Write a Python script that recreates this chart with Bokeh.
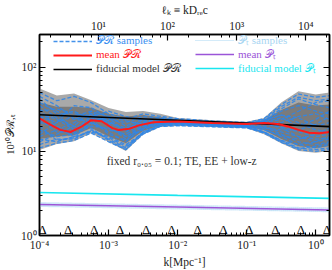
from bokeh.plotting import figure
from bokeh.models import (LogAxis, Range1d, LogScale, Legend, LegendItem, Label,
                          CustomJSTickFormatter, ColumnDataSource)
from bokeh.core.properties import value
from bokeh.embed import file_html
from bokeh.resources import INLINE

# ---------------- data ----------------
D_REC = 14000.0  # Mpc, for the top ell axis

K_GRID = [1e-4, 1.78e-4, 3.16e-4, 5.62e-4, 1e-3, 1.78e-3, 3.16e-3, 5.62e-3,
          1e-2, 3.16e-2, 0.1, 0.178, 0.316, 0.562, 1.0, 1.58]

OUTER_HI = [55.7, 46.2, 48.7, 40.5, 32.7, 29.4, 30.2, 28.0, 25.0, 23.5, 22.5, 25.0, 38.0, 52.0, 47.5, 50.0]
OUTER_LO = [10.4, 12.2, 13.2, 16.4, 12.9, 10.1, 15.9, 19.5, 20.0, 19.5, 18.8, 16.0, 12.5, 10.1, 9.6, 10.1]
INNER_HI = [38.0, 34.0, 34.0, 33.0, 28.0, 26.0, 27.0, 25.5, 24.0, 22.6, 21.7, 23.5, 31.0, 38.0, 35.0, 36.0]
INNER_LO = [14.0, 15.0, 15.5, 19.0, 15.0, 12.5, 17.5, 20.5, 21.0, 20.3, 19.6, 18.0, 14.0, 11.5, 11.0, 11.5]

PR_SAMPLES = [
    [50, 40, 45, 38, 28, 24, 28, 26, 24.5, 23, 22, 24.5, 36, 48, 44, 46],
    [12, 14, 14, 18, 14, 11, 17, 20, 20.5, 19.8, 19.2, 17, 13.5, 11, 10.5, 11],
    [35, 25, 20, 30, 26, 20, 24, 24, 23.5, 22, 21.2, 23, 30, 35, 30, 28],
    [18, 15, 16, 22, 17, 13, 19, 21, 21.3, 20.5, 19.8, 19.5, 16, 13, 12, 13],
    [30, 32, 28, 26, 22, 19, 22, 23, 22.6, 21.6, 21, 21, 19.5, 17, 15, 16],
    [22, 20, 16, 20, 19, 15, 18, 22, 22.2, 21.3, 20.4, 23.5, 27, 25, 20, 22],
    [42, 28, 18, 24, 24, 22, 26, 25, 23.8, 22.5, 21.6, 22, 24, 30, 38, 40],
    [15, 18, 22, 28, 20, 14, 20, 21.5, 21.8, 20.8, 20, 18.5, 15, 12, 11, 12],
    [26, 22, 35, 33, 25, 17, 21, 23, 22.8, 21.8, 21.2, 23, 32, 42, 36, 33],
    [20, 13.5, 14.5, 17.5, 15, 12, 16.5, 20.5, 21, 20.2, 19.5, 18, 15.5, 14, 16, 19],
    [28, 24, 18, 26, 30, 26, 23, 23.5, 23, 21.9, 21, 21.5, 19, 15, 13, 14],
    [45, 35, 25, 22, 18, 16, 20, 22.5, 22.4, 21.4, 20.7, 23, 27, 22, 18, 17],
    [24, 17, 17, 25, 22, 18, 24, 24, 23.2, 22.2, 21.4, 22.5, 25, 20, 24, 30],
    [13, 16, 20, 19, 13.5, 10.5, 17, 21, 21.5, 20.6, 19.8, 17, 13.5, 12, 13, 15],
    [38, 30, 24, 28, 23, 17.5, 22, 24.5, 23.4, 22.3, 21.5, 24, 34, 44, 40, 42],
    [16, 22, 26, 30, 21, 15, 19.5, 22, 22, 21, 20.2, 20, 17, 15, 14, 14.5],
    [32, 19, 15, 21, 26, 23, 21, 22.5, 22.5, 21.6, 20.8, 21.5, 22, 26, 28, 24],
    [25, 27, 30, 24, 16, 13.5, 18.5, 21.8, 21.7, 20.9, 20.1, 19, 18, 18, 21, 26],
    [11, 12.5, 13.5, 16.5, 13, 10.5, 16, 19.8, 20.2, 19.6, 19, 16.5, 12.8, 10.5, 10, 10.5],
    [14, 13, 15, 17, 14.5, 11.5, 16.2, 20.2, 20.8, 20, 19.4, 16.8, 13, 10.8, 11.5, 12.5],
]

K_MEAN = [1e-4, 1.41e-4, 2.0e-4, 2.82e-4, 3.98e-4, 5.62e-4, 7.94e-4, 1.12e-3,
          1.41e-3, 2.0e-3, 2.82e-3, 4.47e-3, 1e-2, 3.16e-2, 0.1, 0.178,
          0.282, 0.398, 0.562, 0.794, 1.12, 1.58]
PR_MEAN = [24.6, 21.0, 18.0, 17.0, 19.5, 23.5, 22.8, 19.0, 17.9, 18.6, 20.5,
           22.2, 22.6, 21.8, 21.1, 21.8, 21.2, 19.8, 18.0, 16.7, 16.4, 17.0]

K_LINE = [1e-4, 1e-2, 1.58]
PR_FID = [27.3, 23.4, 19.7]
PT_FID = [3.25, 3.00, 2.76]
PT_MEAN = [2.34, 2.18, 2.01]
PT_SAMPLES = [
    [2.46, 2.29, 2.12],
    [2.40, 2.23, 2.06],
    [2.27, 2.12, 1.96],
    [2.22, 2.07, 1.92],
]

KNOTS = [1.1e-4, 2.6e-4, 6.2e-4, 1.46e-3, 3.5e-3, 8.2e-3, 1.95e-2, 4.6e-2,
         0.109, 0.26, 0.61, 1.45]

# ---------------- style ----------------
FONT = "Liberation Serif"
C_BLUE = "#2f86e8"
C_RED = "#ff1a1a"
C_PURPLE = "#9b55d8"
C_CYAN = "#19e6ef"
C_LBLUE = "#a9d6f2"

p = figure(width=332, height=270, x_axis_type="log", y_axis_type="log",
           x_range=(1e-4, 1.58), y_range=(1, 245),
           output_backend="svg", toolbar_location=None,
           min_border_left=39, min_border_right=3, min_border_top=29,
           min_border_bottom=33)
p.grid.visible = False
p.outline_line_color = "black"
p.outline_line_width = 1.5

# bands
p.varea(x=K_GRID, y1=OUTER_LO, y2=OUTER_HI, fill_color="#a9a9a9")
p.varea(x=K_GRID, y1=INNER_LO, y2=INNER_HI, fill_color="#7b7b7b")

sample_r = None
for s in PR_SAMPLES:
    r = p.line(K_GRID, s, line_color=C_BLUE, line_width=1.3, line_dash="4 2", line_alpha=0.9)
    if sample_r is None:
        sample_r = r

pt_r = None
for s in PT_SAMPLES:
    r = p.line(K_LINE, s, line_color=C_LBLUE, line_width=1.2, line_dash="1 1")
    if pt_r is None:
        pt_r = r

cyan_r = p.line(K_LINE, PT_FID, line_color=C_CYAN, line_width=1.6)
purple_r = p.line(K_LINE, PT_MEAN, line_color=C_PURPLE, line_width=1.6)
black_r = p.line(K_LINE, PR_FID, line_color="black", line_width=1.6)
red_r = p.line(K_MEAN, PR_MEAN, line_color=C_RED, line_width=2.0)

src = ColumnDataSource(dict(x=KNOTS, t=["Δ"] * len(KNOTS)))
p.text(x="x", y=1.17, text="t", source=src, text_font=value(FONT),
       text_font_size="13px", text_align="center", text_baseline="alphabetic",
       text_color="black")

# axes
fmt_code = """
const e = Math.round(Math.log10(tick));
const m = {"-":"\\u207b","0":"\\u2070","1":"\\u00b9","2":"\\u00b2","3":"\\u00b3","4":"\\u2074","5":"\\u2075","6":"\\u2076","7":"\\u2077","8":"\\u2078","9":"\\u2079"};
return "10" + String(e).split("").map(c => m[c]).join("");
"""

def style_axis(ax):
    ax.axis_line_width = 1.5
    ax.axis_line_color = "black"
    ax.major_tick_in = 6
    ax.major_tick_out = 0
    ax.minor_tick_in = 3
    ax.minor_tick_out = 0
    ax.major_tick_line_width = 1.2
    ax.major_label_text_font = FONT
    ax.major_label_text_font_size = "11.5px"
    ax.major_label_text_color = "#222222"
    ax.major_label_standoff = 3
    ax.axis_label_text_font = FONT
    ax.axis_label_text_font_style = "normal"
    ax.axis_label_text_font_size = "11.5px"
    ax.axis_label_text_color = "#222222"

for ax in (p.xaxis[0], p.yaxis[0]):
    style_axis(ax)
    ax.formatter = CustomJSTickFormatter(code=fmt_code)

p.xaxis[0].axis_label = "k[Mpc⁻¹]"
p.xaxis[0].axis_label_standoff = 2
p.yaxis[0].axis_label = "10¹⁰𝒫ℛ,ₜ"
p.yaxis[0].axis_label_standoff = 2
p.yaxis[0].axis_label_text_font_size = "10.5px"

p.extra_x_ranges = {"ell": Range1d(start=1e-4 * D_REC, end=1.58 * D_REC)}
p.extra_x_scales = {"ell": LogScale()}
top = LogAxis(x_range_name="ell")
style_axis(top)
top.formatter = CustomJSTickFormatter(code=fmt_code)
top.axis_label = "ℓₖ ≡ kDᵣₑc"
top.axis_label_standoff = 1
p.add_layout(top, "above")

right = LogAxis()
style_axis(right)
right.major_label_text_font_size = "1px"
right.major_label_text_color = None
right.major_label_standoff = 0
p.add_layout(right, "right")

# annotation
p.add_layout(Label(x=0.0115, y=7.7, text="fixed r₀.₀₅ = 0.1; TE, EE + low-z",
                   text_align="center", text_baseline="middle", text_font=FONT,
                   text_font_size="11.5px", text_color="#333333"))

# legends (one per entry, for individual text colours)
def add_leg(r, label, color, loc):
    leg = Legend(items=[LegendItem(label=label, renderers=[r])], location=loc,
                 label_text_color=color, label_text_font=FONT,
                 label_text_font_size="11px", background_fill_alpha=0,
                 border_line_alpha=0, padding=0, margin=0, spacing=0,
                 glyph_width=39, glyph_height=12, label_height=12,
                 label_standoff=4)
    p.add_layout(leg)

add_leg(sample_r, "𝒫ℛ samples", "#3b8ff0", (14, 188))
add_leg(red_r, "mean 𝒫ℛ", C_RED, (14, 174))
add_leg(black_r, "fiducial model 𝒫ℛ", "#333333", (14, 160))
add_leg(pt_r, "𝒫ₜ samples", C_LBLUE, (156, 188))
add_leg(purple_r, "mean 𝒫ₜ", C_PURPLE, (156, 174))
add_leg(cyan_r, "fiducial model 𝒫ₜ", C_CYAN, (156, 160))

open("out.html", "w").write(file_html(p, INLINE))
